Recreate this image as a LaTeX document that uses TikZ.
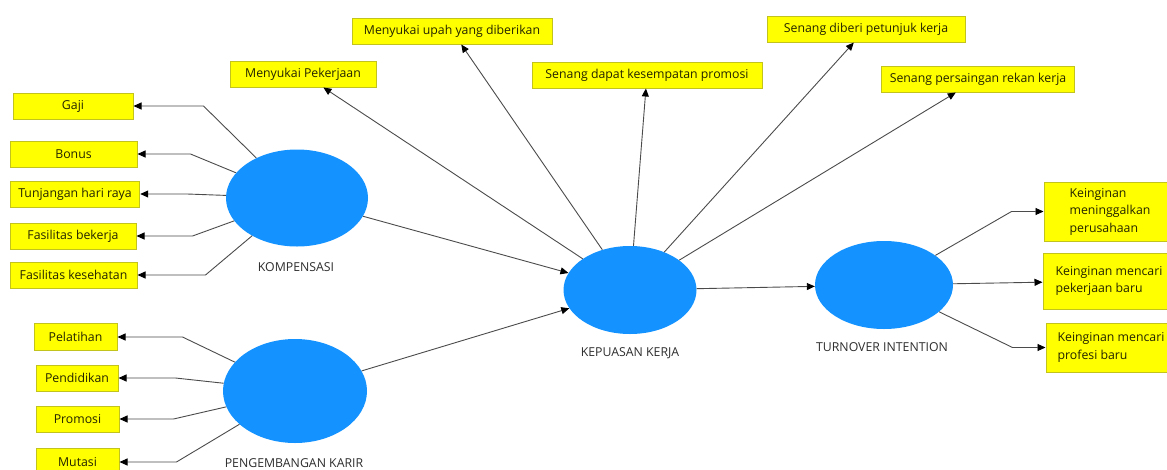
\documentclass[tikz,border=0pt]{standalone}
\usepackage{fontspec}
\setmainfont{Open Sans}
\usetikzlibrary{shapes.geometric,arrows.meta}
\definecolor{latblue}{RGB}{20,146,255}
\definecolor{indyellow}{RGB}{255,255,0}
\definecolor{indborder}{RGB}{195,195,30}
\definecolor{indtext}{RGB}{35,35,0}
\definecolor{edgegray}{RGB}{75,75,75}
\definecolor{labgray}{RGB}{45,45,45}
\tikzstyle{lat}=[shape=ellipse,fill=latblue,inner sep=0pt]
\tikzstyle{ind}=[shape=rectangle,draw=indborder,fill=indyellow,line width=1pt,minimum height=26pt,inner xsep=8pt,text=indtext,font=\fontsize{12.3}{17.5}\selectfont]
\tikzstyle{lbl}=[text=labgray,font=\fontsize{12.3}{14}\selectfont]
\tikzstyle{arr}=[-{Triangle[length=8pt,width=7pt,color=black]},draw=edgegray,line width=0.9pt]

\begin{document}
\begin{tikzpicture}[x=1pt,y=-1pt]
    \useasboundingbox (0,0) rectangle (1167,469);
        % indicators of kepuasan kerja
        \node[ind,minimum width=146pt] (mp) at (303,74) {Menyukai Pekerjaan};
        \node[ind,minimum width=200pt] (mu) at (452,31) {Menyukai upah yang diberikan};
        \node[ind,minimum width=230pt] (sd) at (647,75) {Senang dapat kesempatan promosi};
        \node[ind,minimum width=198pt] (sp) at (866,29) {Senang diberi petunjuk kerja};
        \node[ind,minimum width=192pt] (sr) at (978,79) {Senang persaingan rekan kerja};
        % indicators of turnover intention
        \node[ind,align=left,minimum width=132pt,minimum height=59pt] (km) at (1110,211.5) {Keinginan\\meninggalkan\\perusahaan};
        \node[ind,align=left,minimum width=132pt,minimum height=56pt] (kp) at (1109,281) {Keinginan mencari\\pekerjaan baru};
        \node[ind,align=left,minimum width=130pt,minimum height=49pt] (kf) at (1111,347.5) {Keinginan mencari\\profesi baru};
        % latent variables
        \node[lat,minimum width=138pt,minimum height=88pt] (turn) at (884,285) {};
        \node[lat,minimum width=133pt,minimum height=88pt] (kep) at (630,290) {}
            edge[arr] (mp)
            edge[arr] (mu)
            edge[arr] (sd)
            edge[arr] (sp)
            edge[arr] (sr)
            edge[arr] (turn)
        ;
        \node[lat,minimum width=142pt,minimum height=97pt] (komp) at (297,198) {}
            edge[arr] (kep)
        ;
        \node[lat,minimum width=144pt,minimum height=104pt] (peng) at (295,391) {}
            edge[arr] (kep)
        ;
        \node[lbl] (kompl) at (296,267) {KOMPENSASI};
        \node[lbl] (pengl) at (294,463) {PENGEMBANGAN KARIR};
        \node[lbl] (kepl) at (630,353) {KEPUASAN KERJA};
        \node[lbl] (turnl) at (882,347) {TURNOVER INTENTION};
        % indicators of kompensasi
        \node[ind,minimum width=120pt] (gaji) at (73,106) {Gaji};
        \node[ind,minimum width=127pt] (bonus) at (73.5,154) {Bonus};
        \node[ind,minimum width=126pt] (thr) at (75,194) {Tunjangan hari raya};
        \node[ind,minimum width=126pt] (fbek) at (73,236) {Fasilitas bekerja};
        \node[ind,minimum width=127pt] (fkes) at (73.5,275) {Fasilitas kesehatan};
        % indicators of pengembangan karir
        \node[ind,minimum width=83pt,minimum height=27pt] (pel) at (75.5,337) {Pelatihan};
        \node[ind,minimum width=82pt] (pend) at (77,378) {Pendidikan};
        \node[ind,minimum width=83pt] (prom) at (77.5,419) {Promosi};
        \node[ind,minimum width=83pt,minimum height=28pt] (mut) at (77.5,462) {Mutasi};
        \draw[arr] (komp) -- ([xshift=70pt]gaji.east) -- (gaji);
        \draw[arr] (komp) -- ([xshift=53pt]bonus.east) -- (bonus);
        \draw[arr] (komp) -- ([xshift=47pt]thr.east) -- (thr);
        \draw[arr] (komp) -- ([xshift=56pt]fbek.east) -- (fbek);
        \draw[arr] (komp) -- ([xshift=68pt]fkes.east) -- (fkes);
        \draw[arr] (peng) -- ([xshift=65pt]pel.east) -- (pel);
        \draw[arr] (peng) -- ([xshift=57pt]pend.east) -- (pend);
        \draw[arr] (peng) -- ([xshift=54pt]prom.east) -- (prom);
        \draw[arr] (peng) -- ([xshift=57pt]mut.east) -- (mut);
        \draw[arr] (turn) -- ([xshift=-32pt]km.west) -- (km);
        \draw[arr] (turn) -- (kp);
        \draw[arr] (turn) -- ([xshift=-33pt]kf.west) -- (kf);
    \end{tikzpicture}
\end{document}
